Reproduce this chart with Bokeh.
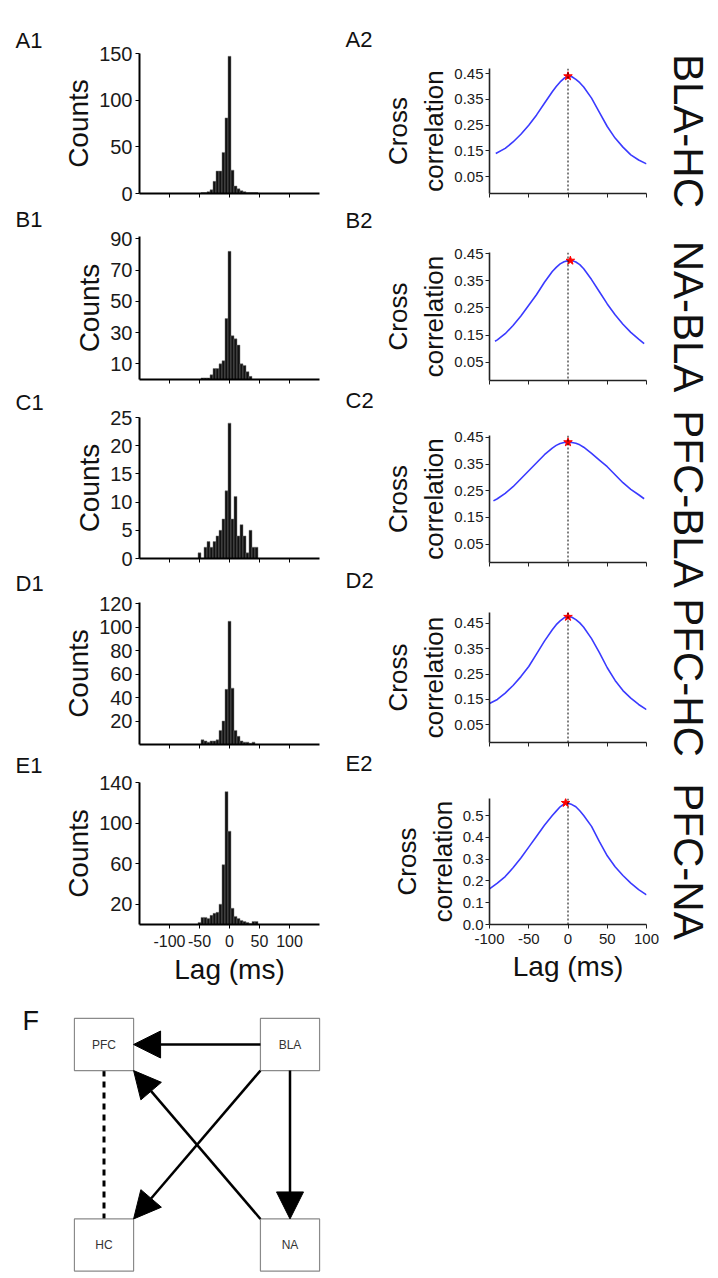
from bokeh.plotting import figure
from bokeh.layouts import row, column
from bokeh.models import (Range1d, FixedTicker, PrintfTickFormatter, Span, LinearAxis,
                          Arrow, NormalHead, ColumnDataSource)
from bokeh.core.properties import value
from bokeh.embed import file_html
from bokeh.resources import INLINE

FONT = "Liberation Sans"

# ---------------- data ----------------
bin_lags = [-50, -45, -40, -35, -30, -25, -20, -15, -10, -5, 0, 5, 10, 15, 20, 25, 30, 35, 40, 45, 50]
counts_A = [0, 1, 1, 2, 4, 13, 24, 24, 44, 81, 147, 25, 8, 5, 3, 2, 1, 1, 1, 1, 0]
counts_B = [0, 1, 1, 1, 3, 7, 7, 10, 12, 39, 82, 28, 26, 22, 10, 9, 5, 2, 0, 0, 0]
counts_C = [1, 0, 2, 3, 2, 3, 4, 5, 7, 12, 24, 7, 11, 4, 6, 4, 1, 5, 2, 2, 0]
counts_D = [0, 4, 3, 2, 3, 3, 4, 12, 20, 47, 105, 48, 12, 7, 3, 2, 2, 1, 2, 0, 0]
counts_E = [2, 7, 7, 6, 9, 11, 12, 20, 59, 131, 92, 16, 8, 6, 4, 3, 2, 1, 3, 3, 0]

hist_xticks = [-100, -50, 0, 50, 100]
hist_xtick_labels = ["-100", "-50", "0", "50", "100"]
yticks_A = [0, 50, 100, 150]
yticks_B = [10, 30, 50, 70, 90]
yticks_C = [0, 5, 10, 15, 20, 25]
yticks_D = [20, 40, 60, 80, 100, 120]
yticks_E = [20, 60, 100, 140]

lag_A = [-92, -80, -70, -60, -50, -40, -30, -20, -15, -10, -5, 0, 5, 10, 15, 20, 30, 40, 50, 60, 70, 80, 90, 100]
xc_A = [0.14, 0.16, 0.185, 0.215, 0.25, 0.29, 0.335, 0.38, 0.40, 0.418, 0.432, 0.44, 0.438, 0.428, 0.415,
        0.398, 0.355, 0.30, 0.245, 0.20, 0.165, 0.135, 0.115, 0.10]
lag_B = [-93, -90, -80, -70, -60, -50, -40, -30, -20, -15, -10, -5, 0, 5, 10, 15, 20, 30, 40, 50, 60, 70, 80, 90, 97]
xc_B = [0.127, 0.132, 0.155, 0.185, 0.22, 0.26, 0.30, 0.345, 0.385, 0.40, 0.413, 0.421, 0.425, 0.425, 0.42,
        0.41, 0.395, 0.355, 0.31, 0.265, 0.225, 0.19, 0.16, 0.135, 0.118]
lag_C = [-95, -90, -80, -70, -60, -50, -40, -30, -20, -15, -10, -5, 0, 5, 10, 15, 20, 30, 40, 50, 60, 70, 80, 90, 97]
xc_C = [0.212, 0.22, 0.24, 0.265, 0.295, 0.325, 0.355, 0.385, 0.41, 0.42, 0.427, 0.431, 0.432, 0.431, 0.428,
        0.422, 0.413, 0.39, 0.365, 0.34, 0.31, 0.28, 0.255, 0.235, 0.22]
lag_D = [-100, -90, -80, -70, -60, -50, -40, -30, -20, -15, -10, -5, 0, 5, 10, 15, 20, 30, 40, 50, 60, 70, 80, 90, 100]
xc_D = [0.134, 0.15, 0.175, 0.205, 0.24, 0.28, 0.33, 0.38, 0.425, 0.445, 0.46, 0.472, 0.476, 0.474, 0.465,
        0.452, 0.435, 0.39, 0.335, 0.275, 0.225, 0.185, 0.155, 0.13, 0.11]
lag_E = [-100, -90, -80, -70, -60, -50, -40, -30, -20, -15, -10, -5, 0, 5, 10, 15, 20, 30, 40, 50, 60, 70, 80, 90, 100]
xc_E = [0.163, 0.19, 0.22, 0.26, 0.305, 0.355, 0.405, 0.455, 0.50, 0.52, 0.54, 0.553, 0.556, 0.55, 0.54,
        0.522, 0.50, 0.45, 0.38, 0.315, 0.265, 0.225, 0.19, 0.16, 0.136]

peak_lag = [0, 3, 0, 0, -3]
peak_val = [0.44, 0.425, 0.432, 0.476, 0.558]

xc_xticks = [-100, -50, 0, 50, 100]
xc_xtick_labels = ["-100", "-50", "0", "50", "100"]
xc_yticks = [0.05, 0.15, 0.25, 0.35, 0.45]
xc_yticks_E = [0.0, 0.1, 0.2, 0.3, 0.4, 0.5]

pair_names = ["BLA-HC", "NA-BLA", "PFC-BLA", "PFC-HC", "PFC-NA"]
left_panel_tags = ["A1", "B1", "C1", "D1", "E1"]
right_panel_tags = ["A2", "B2", "C2", "D2", "E2"]

node_names = ["PFC", "BLA", "HC", "NA"]
node_x = [0, 1, 0, 1]
node_y = [1, 1, 0, 0]
edge_src = ["BLA", "BLA", "BLA", "NA"]
edge_dst = ["PFC", "NA", "HC", "PFC"]
dashed_src = ["PFC"]
dashed_dst = ["HC"]

TOP_H = 995  # height of the panel block, pixels


# ---------------- helpers ----------------
def base_fig(w, h, xr, yr, bl, br, bt, bb):
    p = figure(width=w, height=h, x_range=Range1d(*xr), y_range=Range1d(*yr),
               output_backend="svg", toolbar_location=None,
               min_border_left=bl, min_border_right=br, min_border_top=bt, min_border_bottom=bb)
    p.grid.visible = False
    p.outline_line_color = None
    p.background_fill_color = "white"
    p.border_fill_color = "white"
    return p


def style_axis(ax, lw, color):
    ax.axis_line_width = lw
    ax.axis_line_color = color
    ax.major_tick_line_color = color
    ax.major_tick_line_width = 1
    ax.major_tick_in = 0
    ax.major_tick_out = 4
    ax.minor_tick_line_color = None
    ax.major_label_text_font = FONT
    ax.major_label_text_color = "#1a1a1a"
    ax.axis_label_text_font = FONT
    ax.axis_label_text_font_style = "normal"
    ax.axis_label_text_color = "#111111"


def tag_column(width, tags, tag_x, baselines):
    # narrow strip whose data units are page pixels (y grows downward)
    p = base_fig(width, TOP_H, (0, width), (TOP_H, 0), 0, 0, 0, 0)
    p.axis.visible = False
    p.text(x=[tag_x] * len(tags), y=baselines, text=tags, text_align="left",
           text_baseline="alphabetic", text_font=value(FONT), text_font_size="22px",
           text_color="#111111")
    return p


def hist_panel(counts, y_end, yticks, h, top, bottom, last):
    p = base_fig(280, h, (-150, 150), (0, y_end), 79, 21, top, bottom)
    p.vbar(x=bin_lags, top=counts, width=5, bottom=0,
           fill_color="#111111", line_color="#7a7a7a", line_width=0.5)
    xa = p.xaxis[0]
    ya = p.yaxis[0]
    style_axis(xa, 2, "black")
    style_axis(ya, 2, "black")
    xa.ticker = FixedTicker(ticks=hist_xticks)
    ya.ticker = FixedTicker(ticks=yticks)
    ya.major_label_text_font_size = "20px"
    ya.major_label_standoff = 3
    ya.axis_label = "Counts"
    ya.axis_label_text_font_size = "28px"
    ya.axis_label_standoff = 2
    if last:
        xa.major_label_overrides = dict(zip(hist_xticks, hist_xtick_labels))
        xa.major_label_text_font_size = "16px"
        xa.major_label_standoff = 6
        xa.axis_label = "Lag (ms)"
        xa.axis_label_text_font_size = "28px"
        xa.axis_label_standoff = 4
    else:
        xa.major_label_overrides = {t: "" for t in hist_xticks}
        xa.major_label_text_font_size = "10px"
    return p


def xc_panel(lags, vals, pk_x, pk_y, yr, yticks, fmt, h, top, bottom, last, name):
    p = base_fig(338, h, (-100, 100), yr, 104, 72, top, bottom)
    p.add_layout(Span(location=0, dimension="height", line_color="black",
                      line_dash="2 2", line_width=1))
    p.line(lags, vals, line_color="#3a3aff", line_width=1.6)
    p.scatter([pk_x], [pk_y], marker="star", size=9, fill_color="red", line_color="red")
    xa = p.xaxis[0]
    ya = p.yaxis[0]
    style_axis(xa, 1.6, "#222222")
    style_axis(ya, 1.6, "#222222")
    xa.ticker = FixedTicker(ticks=xc_xticks)
    ya.ticker = FixedTicker(ticks=yticks)
    ya.formatter = PrintfTickFormatter(format=fmt)
    ya.major_label_text_font_size = "15px"
    ya.major_label_standoff = 2
    ya.axis_label = "Cross\ncorrelation"
    ya.axis_label_text_font_size = "26px"
    ya.axis_label_standoff = 2
    if last:
        xa.major_label_overrides = dict(zip(xc_xticks, xc_xtick_labels))
        xa.major_label_text_font_size = "15px"
        xa.major_label_standoff = 5
        xa.axis_label = "Lag (ms)"
        xa.axis_label_text_font_size = "28px"
        xa.axis_label_standoff = 4
    else:
        xa.major_label_overrides = {t: "" for t in xc_xticks}
        xa.major_label_text_font_size = "10px"
    # pair name on the right side, reading top to bottom
    ra = LinearAxis(ticker=FixedTicker(ticks=[]), axis_label=name,
                    axis_line_color=None, major_tick_line_color=None,
                    minor_tick_line_color=None, axis_label_standoff=18,
                    axis_label_text_font=FONT, axis_label_text_font_size="42px",
                    axis_label_text_font_style="normal", axis_label_text_color="#111111")
    p.add_layout(ra, "right")
    return p


# ---------------- left column (histograms) ----------------
hist_counts = [counts_A, counts_B, counts_C, counts_D, counts_E]
hist_ytick_sets = [yticks_A, yticks_B, yticks_C, yticks_D, yticks_E]
hist_yend = [150, 91.5, 25, 121, 140]
left_h = [225, 179, 184, 180, 227]
left_top = [53, 11, 13, 14, 14]
left_bot = [32, 25, 30, 24, 71]

left_figs = [hist_panel(hist_counts[i], hist_yend[i], hist_ytick_sets[i], left_h[i],
                        left_top[i], left_bot[i], i == 4) for i in range(5)]

# ---------------- right column (cross-correlations) ----------------
xc_lags = [lag_A, lag_B, lag_C, lag_D, lag_E]
xc_vals = [xc_A, xc_B, xc_C, xc_D, xc_E]
xc_yr = [(-0.015, 0.47), (-0.018, 0.455), (-0.019, 0.457), (-0.02, 0.493), (0.0, 0.578)]
right_h = [230, 180, 180, 185, 220]
right_top = [68, 22, 25, 22, 23]
right_bot = [37, 30, 28, 33, 71]

right_figs = []
for i in range(5):
    last = i == 4
    right_figs.append(xc_panel(xc_lags[i], xc_vals[i], peak_lag[i], peak_val[i], xc_yr[i],
                               xc_yticks_E if last else xc_yticks, "%.1f" if last else "%.2f",
                               right_h[i], right_top[i], right_bot[i], last, pair_names[i]))

# panel tags (A1..E1, A2..E2) in narrow strips
left_tags = tag_column(60, left_panel_tags, 15, [40, 219, 402, 583, 765])
right_tags = tag_column(40, right_panel_tags, 5, [39, 220, 400, 580, 763])

# ---------------- diagram F ----------------
box_hw = 0.159
box_hh = 0.13
diag_h = 278
d = base_fig(340, diag_h, (-0.5565, 1.2715), (-0.1421, 1.2444), 0, 0, 0, 0)
d.axis.visible = False

pos = {n: (x, y) for n, x, y in zip(node_names, node_x, node_y)}


def edge_coords(srcs, dsts):
    x0, y0, x1, y1 = [], [], [], []
    for s, t in zip(srcs, dsts):
        sx, sy = pos[s]
        tx, ty = pos[t]
        dx = (tx > sx) - (tx < sx)
        dy = (ty > sy) - (ty < sy)
        x0.append(sx + dx * box_hw)
        y0.append(sy + dy * box_hh)
        x1.append(tx - dx * box_hw)
        y1.append(ty - dy * box_hh)
    return dict(x0=x0, y0=y0, x1=x1, y1=y1)


dash_src = ColumnDataSource(edge_coords(dashed_src, dashed_dst))
d.segment(x0="x0", y0="y0", x1="x1", y1="y1", source=dash_src,
          line_color="black", line_width=3, line_dash="6 5")

arrow_src = ColumnDataSource(edge_coords(edge_src, edge_dst))
d.add_layout(Arrow(end=NormalHead(size=27, fill_color="black", line_color="black", line_width=1),
                   source=arrow_src, x_start="x0", y_start="y0", x_end="x1", y_end="y1",
                   line_color="black", line_width=2.5))

d.rect(x=node_x, y=node_y, width=2 * box_hw, height=2 * box_hh,
       fill_color="white", fill_alpha=0.0, line_color="#8a8a8a", line_width=1.2)
d.text(x=node_x, y=node_y, text=node_names, text_align="center", text_baseline="middle",
       text_font=value(FONT), text_font_size="12px", text_color="#333333")
d.text(x=[-0.4380], y=[1.1197], text=["F"], text_align="left", text_baseline="alphabetic",
       text_font=value(FONT), text_font_size="27px", text_color="#111111")

layout = column(row(left_tags, column(*left_figs), right_tags, column(*right_figs)), d)

open("out.html", "w").write(file_html(layout, INLINE))
